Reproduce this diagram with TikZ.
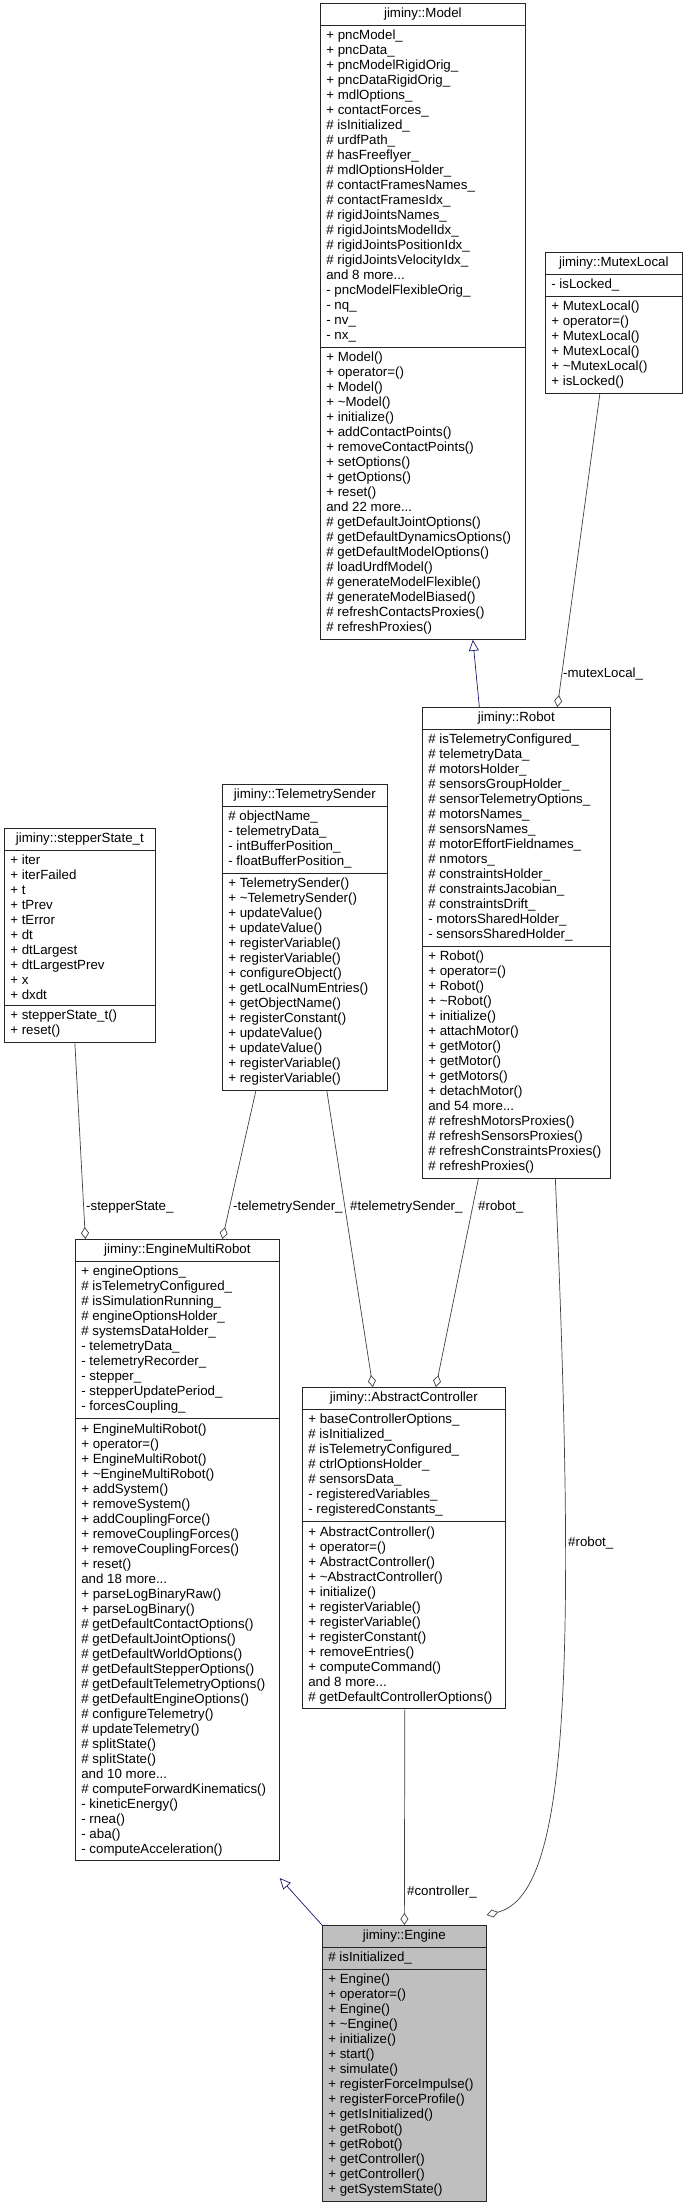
\documentclass[tikz,border=0pt]{standalone}
\usepackage{fontspec}
\setmainfont{Liberation Sans}
\usetikzlibrary{arrows.meta, positioning, shapes.multipart}

\definecolor{inhblue}{HTML}{191970}
\definecolor{edgegray}{HTML}{404040}
\newcommand{\umlfont}{\fontsize{13.3}{15}\selectfont}

\begin{document}
\begin{tikzpicture}[x=1pt, y=-1pt]
    \tikzstyle{cls}=[rectangle split, rectangle split parts=3, anchor=north west, draw=black!85, fill=white, line width=0.7pt, font=\umlfont, align=left, inner xsep=6pt, inner ysep=4.5pt, rectangle split part align={center,left,left}]
    \tikzstyle{cur}=[cls, fill=black!25]
    \tikzstyle{agg}=[draw=edgegray, line width=0.7pt, -{Diamond[open, length=12pt, width=8pt]}]
    \tikzstyle{inh}=[draw=inhblue, line width=0.7pt, -{Triangle[open, length=11pt, width=10pt]}]
    \tikzstyle{lbl}=[font=\umlfont, anchor=west, inner sep=0pt]

    \useasboundingbox (0,0) rectangle (685,2209);

    \node[cls, minimum width=205] (model) at (320,3) {jiminy::Model
        \nodepart{second}+ pncModel\_\\+ pncData\_\\+ pncModelRigidOrig\_\\+ pncDataRigidOrig\_\\+ mdlOptions\_\\+ contactForces\_\\\# isInitialized\_\\\# urdfPath\_\\\# hasFreeflyer\_\\\# mdlOptionsHolder\_\\\# contactFramesNames\_\\\# contactFramesIdx\_\\\# rigidJointsNames\_\\\# rigidJointsModelIdx\_\\\# rigidJointsPositionIdx\_\\\# rigidJointsVelocityIdx\_\\and 8 more...\\- pncModelFlexibleOrig\_\\- nq\_\\- nv\_\\- nx\_
        \nodepart{third}+ Model()\\+ operator=()\\+ Model()\\+ \textasciitilde Model()\\+ initialize()\\+ addContactPoints()\\+ removeContactPoints()\\+ setOptions()\\+ getOptions()\\+ reset()\\and 22 more...\\\# getDefaultJointOptions()\\\# getDefaultDynamicsOptions()\\\# getDefaultModelOptions()\\\# loadUrdfModel()\\\# generateModelFlexible()\\\# generateModelBiased()\\\# refreshContactsProxies()\\\# refreshProxies()};

    \node[cls, minimum width=137] (mutex) at (545,252) {jiminy::MutexLocal
        \nodepart{second}- isLocked\_
        \nodepart{third}+ MutexLocal()\\+ operator=()\\+ MutexLocal()\\+ MutexLocal()\\+ \textasciitilde MutexLocal()\\+ isLocked()};

    \node[cls, minimum width=188] (robot) at (422,707) {jiminy::Robot
        \nodepart{second}\# isTelemetryConfigured\_\\\# telemetryData\_\\\# motorsHolder\_\\\# sensorsGroupHolder\_\\\# sensorTelemetryOptions\_\\\# motorsNames\_\\\# sensorsNames\_\\\# motorEffortFieldnames\_\\\# nmotors\_\\\# constraintsHolder\_\\\# constraintsJacobian\_\\\# constraintsDrift\_\\- motorsSharedHolder\_\\- sensorsSharedHolder\_
        \nodepart{third}+ Robot()\\+ operator=()\\+ Robot()\\+ \textasciitilde Robot()\\+ initialize()\\+ attachMotor()\\+ getMotor()\\+ getMotor()\\+ getMotors()\\+ detachMotor()\\and 54 more...\\\# refreshMotorsProxies()\\\# refreshSensorsProxies()\\\# refreshConstraintsProxies()\\\# refreshProxies()};

    \node[cls, minimum width=165] (sender) at (222,784) {jiminy::TelemetrySender
        \nodepart{second}\# objectName\_\\- telemetryData\_\\- intBufferPosition\_\\- floatBufferPosition\_
        \nodepart{third}+ TelemetrySender()\\+ \textasciitilde TelemetrySender()\\+ updateValue()\\+ updateValue()\\+ registerVariable()\\+ registerVariable()\\+ configureObject()\\+ getLocalNumEntries()\\+ getObjectName()\\+ registerConstant()\\+ updateValue()\\+ updateValue()\\+ registerVariable()\\+ registerVariable()};

    \node[cls, minimum width=151] (stepper) at (4,828) {jiminy::stepperState\_t
        \nodepart{second}+ iter\\+ iterFailed\\+ t\\+ tPrev\\+ tError\\+ dt\\+ dtLargest\\+ dtLargestPrev\\+ x\\+ dxdt
        \nodepart{third}+ stepperState\_t()\\+ reset()};

    \node[cls, minimum width=204] (multi) at (75,1239) {jiminy::EngineMultiRobot
        \nodepart{second}+ engineOptions\_\\\# isTelemetryConfigured\_\\\# isSimulationRunning\_\\\# engineOptionsHolder\_\\\# systemsDataHolder\_\\- telemetryData\_\\- telemetryRecorder\_\\- stepper\_\\- stepperUpdatePeriod\_\\- forcesCoupling\_
        \nodepart{third}+ EngineMultiRobot()\\+ operator=()\\+ EngineMultiRobot()\\+ \textasciitilde EngineMultiRobot()\\+ addSystem()\\+ removeSystem()\\+ addCouplingForce()\\+ removeCouplingForces()\\+ removeCouplingForces()\\+ reset()\\and 18 more...\\+ parseLogBinaryRaw()\\+ parseLogBinary()\\\# getDefaultContactOptions()\\\# getDefaultJointOptions()\\\# getDefaultWorldOptions()\\\# getDefaultStepperOptions()\\\# getDefaultTelemetryOptions()\\\# getDefaultEngineOptions()\\\# configureTelemetry()\\\# updateTelemetry()\\\# splitState()\\\# splitState()\\and 10 more...\\\# computeForwardKinematics()\\- kineticEnergy()\\- rnea()\\- aba()\\- computeAcceleration()};

    \node[cls, minimum width=203] (ctrl) at (302,1387) {jiminy::AbstractController
        \nodepart{second}+ baseControllerOptions\_\\\# isInitialized\_\\\# isTelemetryConfigured\_\\\# ctrlOptionsHolder\_\\\# sensorsData\_\\- registeredVariables\_\\- registeredConstants\_
        \nodepart{third}+ AbstractController()\\+ operator=()\\+ AbstractController()\\+ \textasciitilde AbstractController()\\+ initialize()\\+ registerVariable()\\+ registerVariable()\\+ registerConstant()\\+ removeEntries()\\+ computeCommand()\\and 8 more...\\\# getDefaultControllerOptions()};

    \node[cur, minimum width=164] (engine) at (322,1925) {jiminy::Engine
        \nodepart{second}\# isInitialized\_
        \nodepart{third}+ Engine()\\+ operator=()\\+ Engine()\\+ \textasciitilde Engine()\\+ initialize()\\+ start()\\+ simulate()\\+ registerForceImpulse()\\+ registerForceProfile()\\+ getIsInitialized()\\+ getRobot()\\+ getRobot()\\+ getController()\\+ getController()\\+ getSystemState()};

    % inheritance
    \draw[inh] ([xshift=-37]robot.north) -- ([xshift=50]model.south);
    \draw[inh] (engine.north west) -- ([yshift=-17]multi.south east);

    % members
    \draw[agg] ([xshift=-14]mutex.south) -- ([xshift=41]robot.north);
    \draw[agg] ([xshift=-5]stepper.south) -- ([xshift=-92]multi.north);
    \draw[agg] ([xshift=-49]sender.south) -- ([xshift=45]multi.north);
    \draw[agg] ([xshift=22]sender.south) -- ([xshift=-31]ctrl.north);
    \draw[agg] ([xshift=-38]robot.south) -- ([xshift=32]ctrl.north);
    \draw[agg] ([xshift=39]robot.south) .. controls (578,1700) and (565,1895) .. ([yshift=10]engine.north east);
    \draw[agg] ([xshift=1]ctrl.south) -- (engine.north);

    \node[lbl] (lmutex) at (563,674) {-mutexLocal\_};
    \node[lbl] (lstepper) at (86,1207) {-stepperState\_};
    \node[lbl] (lsender) at (233,1207) {-telemetrySender\_};
    \node[lbl] (lsenderc) at (350,1207) {\#telemetrySender\_};
    \node[lbl] (lrobotc) at (478,1207) {\#robot\_};
    \node[lbl] (lrobot) at (568,1543) {\#robot\_};
    \node[lbl] (lctrl) at (407,1892) {\#controller\_};
\end{tikzpicture}
\end{document}
